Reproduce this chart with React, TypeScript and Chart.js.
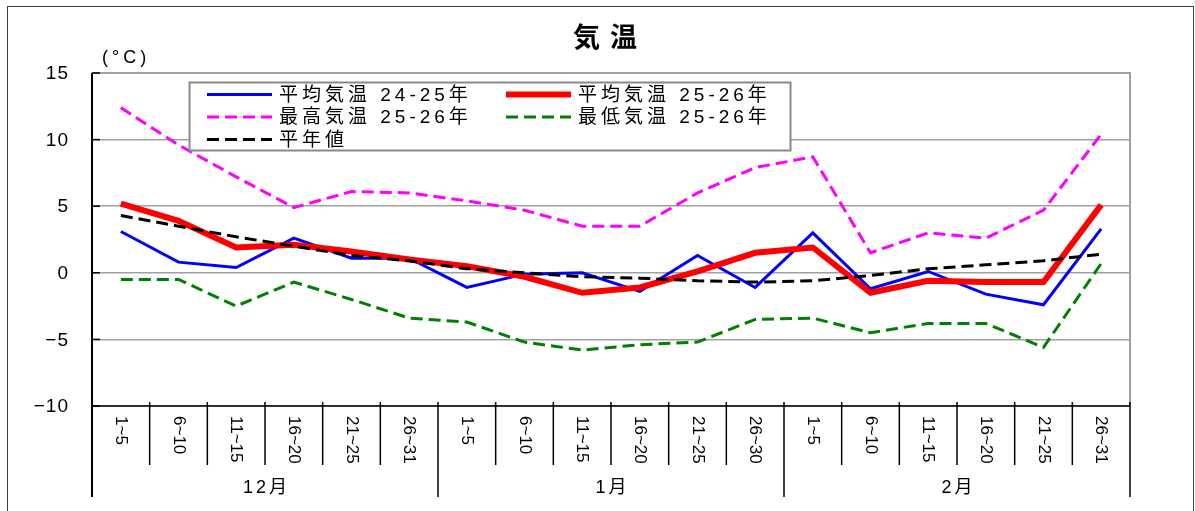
import React, { useEffect, useRef } from "react";
import { Chart, registerables } from "chart.js";

Chart.register(...registerables);

const categories = [
  "1~5", "6~10", "11~15", "16~20", "21~25", "26~31",
  "1~5", "6~10", "11~15", "16~20", "21~25", "26~30",
  "1~5", "6~10", "11~15", "16~20", "21~25", "26~31",
];
const months = ["12月", "1月", "2月"];
const monthSpans = [6, 6, 6];

const avg2425 = [3.1, 0.8, 0.4, 2.6, 1.1, 1.1, -1.1, -0.1, 0.0, -1.4, 1.3, -1.1, 3.0, -1.2, 0.1, -1.6, -2.4, 3.3];
const avg2526 = [5.2, 3.9, 1.9, 2.1, 1.6, 1.0, 0.5, -0.3, -1.5, -1.1, 0.1, 1.5, 1.9, -1.5, -0.6, -0.7, -0.7, 5.1];
const max2526 = [12.4, 9.6, 7.2, 4.9, 6.1, 6.0, 5.4, 4.7, 3.5, 3.5, 6.0, 7.9, 8.7, 1.5, 3.0, 2.6, 4.7, 10.4];
const min2526 = [-0.5, -0.5, -2.5, -0.7, -2.0, -3.4, -3.7, -5.2, -5.8, -5.4, -5.2, -3.5, -3.4, -4.5, -3.8, -3.8, -5.6, 0.7];
const normal = [4.3, 3.5, 2.7, 2.0, 1.3, 0.9, 0.3, 0.0, -0.3, -0.4, -0.6, -0.7, -0.6, -0.2, 0.3, 0.6, 0.9, 1.4];

const yTicks = [15, 10, 5, 0, -5, -10];
const title = "気温";
const unitLabel = "(°C)";
const legendLabels = ["平均気温 24-25年", "平均気温 25-26年", "最高気温 25-26年", "最低気温 25-26年", "平年値"];

const FONT = '"Liberation Sans", "Noto Sans CJK JP", sans-serif';

type Style = { color: string; width: number; dash: number[] };
const styles: Style[] = [
  { color: "#0000ff", width: 3, dash: [] },
  { color: "#ff0000", width: 6, dash: [] },
  { color: "#ff00ff", width: 3, dash: [12, 6] },
  { color: "#008000", width: 3, dash: [12, 6] },
  { color: "#000000", width: 3, dash: [12, 6] },
];
const seriesData = [avg2425, avg2526, max2526, min2526, normal];
const drawOrder = [2, 1, 3, 4, 0];

function drawText(
  ctx: CanvasRenderingContext2D,
  s: string,
  x: number,
  y: number,
  font: string,
  spacing: number,
  align: "left" | "center" | "right"
) {
  ctx.font = font;
  (ctx as any).letterSpacing = spacing + "px";
  ctx.textAlign = "left";
  ctx.textBaseline = "middle";
  const w = ctx.measureText(s).width - spacing;
  let sx = x;
  if (align === "center") sx = x - w / 2;
  else if (align === "right") sx = x - w;
  ctx.fillText(s, sx, y);
  (ctx as any).letterSpacing = "0px";
}

const decorPlugin = {
  id: "decor",
  afterDraw(chart: any) {
    const ctx: CanvasRenderingContext2D = chart.ctx;
    const area = chart.chartArea;
    const yScale = chart.scales.y;
    const n = categories.length;
    const cw = (area.right - area.left) / n;
    ctx.save();

    // outer frame
    ctx.strokeStyle = "#404040";
    ctx.lineWidth = 1;
    ctx.strokeRect(7.5, 6.5, 1186, 700);

    // plot frame top/right
    ctx.strokeStyle = "#a0a0a0";
    ctx.lineWidth = 2;
    ctx.beginPath();
    ctx.moveTo(area.left, area.top);
    ctx.lineTo(area.right, area.top);
    ctx.lineTo(area.right, area.bottom);
    ctx.stroke();

    // left axis + bottom axis
    ctx.strokeStyle = "#000";
    ctx.lineWidth = 2;
    ctx.beginPath();
    ctx.moveTo(area.left, area.top);
    ctx.lineTo(area.left, area.bottom + 91);
    ctx.stroke();
    ctx.lineWidth = 1.5;
    ctx.beginPath();
    ctx.moveTo(area.left, area.bottom);
    ctx.lineTo(area.right, area.bottom);
    ctx.stroke();

    // y ticks inward + labels
    ctx.fillStyle = "#000";
    yTicks.forEach((v) => {
      const py = yScale.getPixelForValue(v);
      ctx.strokeStyle = "#000";
      ctx.lineWidth = 1.5;
      ctx.beginPath();
      ctx.moveTo(area.left, py);
      ctx.lineTo(area.left + 8, py);
      ctx.stroke();
      const s = String(v).replace("-", "\u2212");
      drawText(ctx, s, area.left - 24, py + 1, "19px " + FONT, 1, "right");
    });

    // x separators
    let acc = 0;
    const monthBounds = new Set<number>([0]);
    monthSpans.forEach((sp) => {
      acc += sp;
      monthBounds.add(acc);
    });
    for (let i = 0; i <= n; i++) {
      const px = area.left + i * cw;
      const isMonth = monthBounds.has(i);
      ctx.strokeStyle = "#000";
      ctx.lineWidth = 1.5;
      ctx.beginPath();
      ctx.moveTo(px, area.bottom - 4);
      ctx.lineTo(px, area.bottom + (isMonth ? 91 : 59));
      ctx.stroke();
    }

    // rotated category labels
    categories.forEach((c, i) => {
      const cx = area.left + (i + 0.5) * cw;
      ctx.save();
      ctx.translate(cx, area.bottom + 10);
      ctx.rotate(Math.PI / 2);
      drawText(ctx, c, 0, 0, "17px " + FONT, 0, "left");
      ctx.restore();
    });

    // month labels
    let start = 0;
    months.forEach((m, i) => {
      const sp = monthSpans[i];
      const cx = area.left + (start + sp / 2) * cw;
      drawText(ctx, m, cx, area.bottom + 82, "18px " + FONT, 3, "center");
      start += sp;
    });

    // title and unit
    drawText(ctx, title, 605, 40, "bold 27px " + FONT, 10, "center");
    drawText(ctx, unitLabel, 102, 58, "18px " + FONT, 4, "left");

    // legend
    const lx0 = 189.5, ly0 = 82.5, lw = 601, lh = 68;
    ctx.fillStyle = "#fff";
    ctx.fillRect(lx0, ly0, lw, lh);
    ctx.strokeStyle = "#888";
    ctx.lineWidth = 2;
    ctx.strokeRect(lx0, ly0, lw, lh);
    const cols = [207, 506];
    const rows = [94.5, 117, 139.5];
    legendLabels.forEach((lab, i) => {
      const col = i % 2;
      const row = Math.floor(i / 2);
      const x = cols[col];
      const y = rows[row];
      const st = styles[i];
      ctx.strokeStyle = st.color;
      ctx.lineWidth = st.width;
      ctx.setLineDash(st.dash);
      ctx.lineCap = "butt";
      ctx.beginPath();
      ctx.moveTo(x, y);
      ctx.lineTo(x + 65, y);
      ctx.stroke();
      ctx.setLineDash([]);
      ctx.fillStyle = "#000";
      drawText(ctx, lab, x + 72, y + 1, "19px " + FONT, 4, "left");
    });

    ctx.restore();
  },
};

export default function App() {
  const ref = useRef<HTMLCanvasElement | null>(null);
  useEffect(() => {
    if (!ref.current) return;
    const datasets = seriesData.map((d, i) => ({
      label: legendLabels[i],
      data: d,
      borderColor: styles[i].color,
      backgroundColor: styles[i].color,
      borderWidth: styles[i].width,
      borderDash: styles[i].dash,
      pointRadius: 0,
      tension: 0,
      fill: false,
      order: drawOrder[i],
    }));
    const chart = new Chart(ref.current, {
      type: "line",
      data: { labels: categories, datasets },
      options: {
        responsive: false,
        animation: false,
        devicePixelRatio: 1,
        layout: { padding: { top: 73, right: 65, bottom: 0, left: 0 } },
        plugins: {
          legend: { display: false },
          title: { display: false },
          tooltip: { enabled: false },
        },
        scales: {
          x: {
            type: "category",
            offset: true,
            grid: { display: false },
            border: { display: false },
            ticks: { display: false },
            afterFit: (s: any) => {
              s.height = 105;
            },
          },
          y: {
            min: -10,
            max: 15,
            ticks: { display: false, stepSize: 5 },
            grid: { color: "#a0a0a0", lineWidth: 1.5, drawTicks: false },
            border: { display: false },
            afterFit: (s: any) => {
              s.width = 92;
            },
          },
        },
      },
      plugins: [decorPlugin],
    });
    return () => chart.destroy();
  }, []);
  return (
    <div style={{ position: "absolute", left: 0, top: 0, width: 1195, height: 511, background: "#fff" }}>
      <canvas ref={ref} width={1195} height={511} style={{ display: "block" }} />
    </div>
  );
}
